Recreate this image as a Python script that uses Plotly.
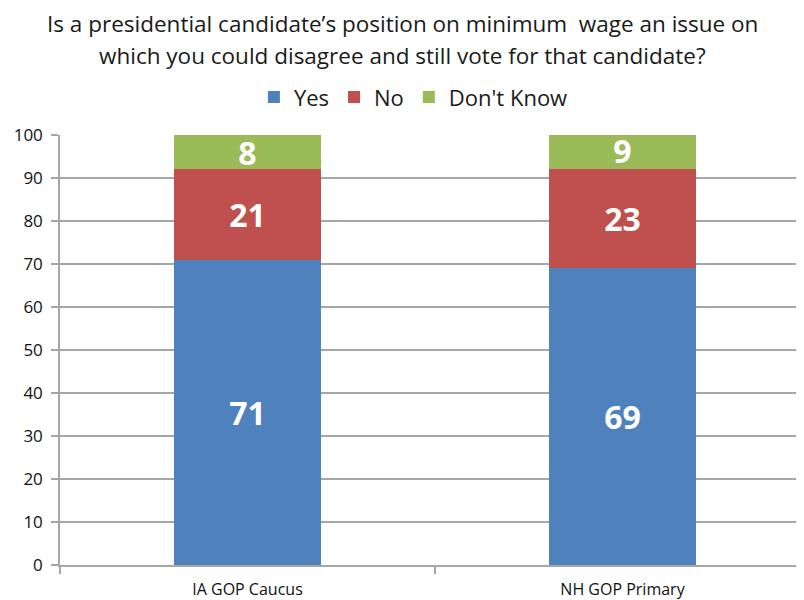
import plotly.graph_objects as go

categories = ["IA GOP Caucus", "NH GOP Primary"]
yes_vals = [71, 69]
no_vals = [21, 23]
dk_vals = [8, 9]
y_ticks = [0, 10, 20, 30, 40, 50, 60, 70, 80, 90, 100]
title_lines = ["Is a presidential candidate\u2019s position on minimum  wage an issue on",
               "which you could disagree and still vote for that candidate?"]

FONT = "Open Sans"
series = [("Yes", yes_vals, "#4F81BD"), ("No", no_vals, "#C0504D"), ("Don't Know", dk_vals, "#9BBB59")]

fig = go.Figure()
for name, vals, color in series:
    fig.add_trace(go.Bar(
        x=categories, y=vals, name=name, marker=dict(color=color, line=dict(width=0)),
        text=[str(v) for v in vals], textposition="inside", insidetextanchor="middle",
        textangle=0, constraintext="none",
        textfont=dict(family=FONT, size=32, color="white", weight="bold"),
        width=0.39,
    ))

# page has an 8px body margin, so the figure is drawn at (8, 8)
fig.update_layout(
    barmode="stack",
    width=796, height=592,
    paper_bgcolor="white", plot_bgcolor="white",
    margin=dict(l=52, r=0, t=127, b=35),
    legend=dict(orientation="h", x=0.475, xanchor="center", y=1.088, yanchor="middle",
                font=dict(family=FONT, size=22, color="#1a1a1a"), traceorder="normal",
                itemwidth=30),
)
for i, (line, off) in enumerate(zip(title_lines, [111, 79])):
    fig.add_annotation(text=line, xref="paper", yref="paper", x=0.4597, xanchor="center",
                       y=1 + off / 430, yanchor="middle", showarrow=False,
                       font=dict(family=FONT, size=22.5, color="#1a1a1a"))

fig.update_yaxes(range=[0, 100], tickvals=y_ticks, showgrid=True, gridcolor="#A6A6A6", gridwidth=1.5,
                 showline=True, linecolor="#A6A6A6", linewidth=1.5, ticks="outside", ticklen=7,
                 tickcolor="#A6A6A6", tickwidth=1.5, ticklabelstandoff=5,
                 tickfont=dict(family=FONT, size=17, color="#111"), zeroline=False)
fig.update_xaxes(range=[-0.5, 1.484], showline=True, linecolor="#A6A6A6", linewidth=1.5,
                 ticks="outside", ticklen=7, tickcolor="#A6A6A6", tickwidth=1.5, tickson="boundaries",
                 ticklabelstandoff=9, tickfont=dict(family=FONT, size=16, color="#111"))

fig.write_html("out.html")
